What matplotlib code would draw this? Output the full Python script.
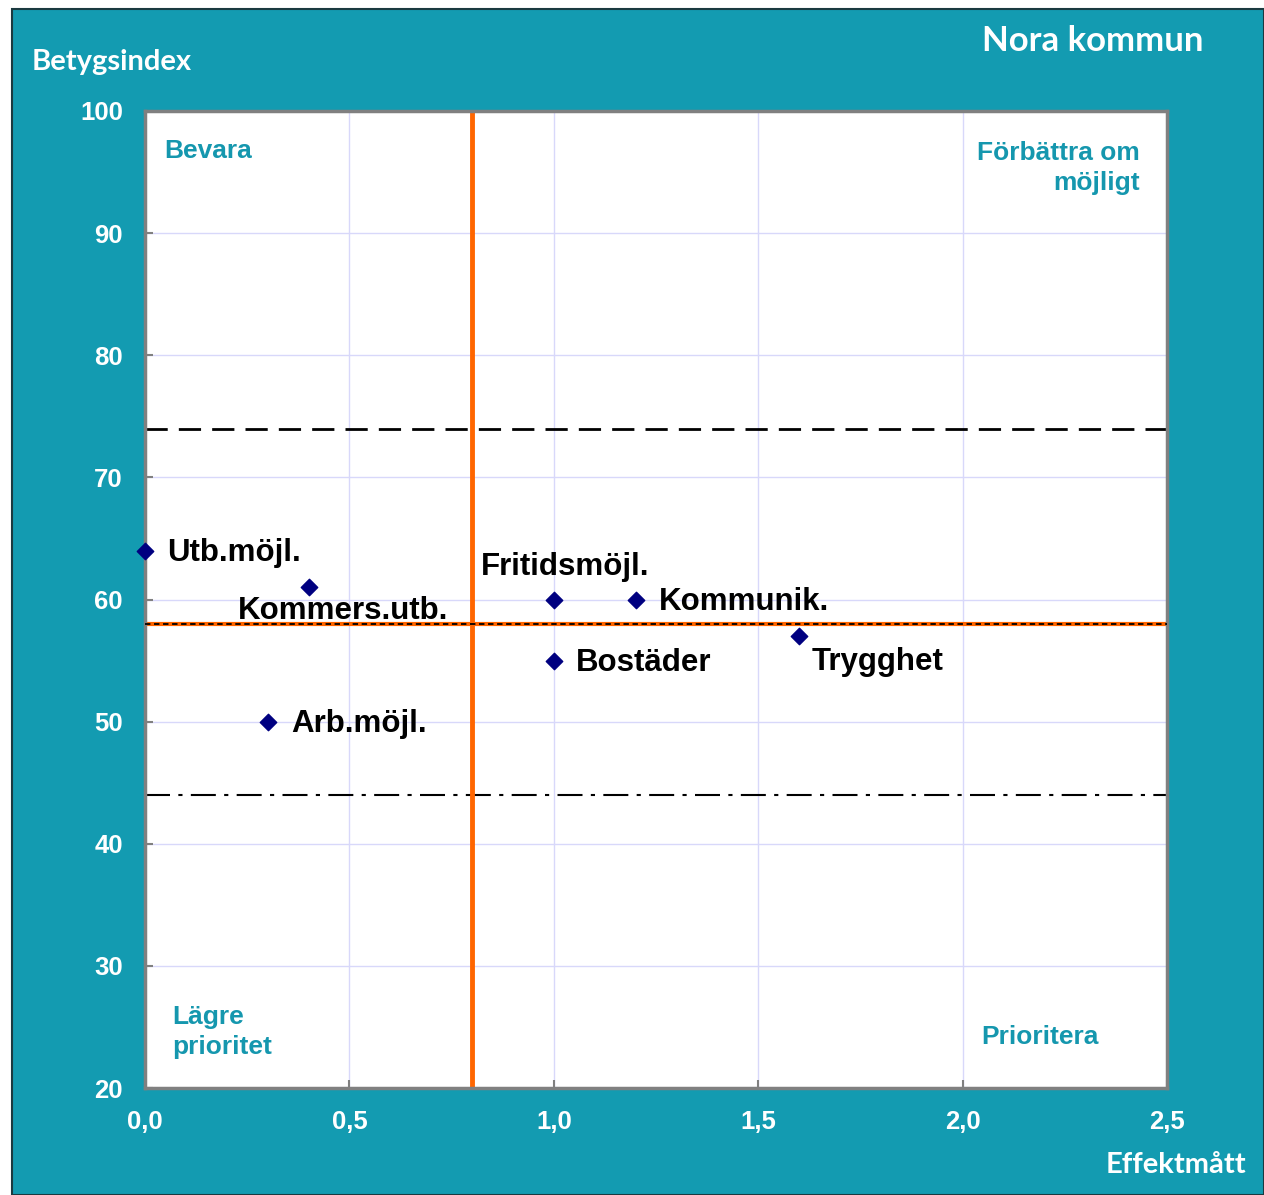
import matplotlib.pyplot as plt
from matplotlib.patches import Rectangle

# data
labels = ['Utb.möjl.', 'Kommers.utb.', 'Arb.möjl.', 'Fritidsmöjl.', 'Bostäder', 'Kommunik.', 'Trygghet']
effekt = [0.0, 0.4, 0.3, 1.0, 1.0, 1.2, 1.6]
betyg = [64, 61, 50, 60, 55, 60, 57]
x_ticks = [0.0, 0.5, 1.0, 1.5, 2.0, 2.5]
x_ticklabels = ['0,0', '0,5', '1,0', '1,5', '2,0', '2,5']
y_ticks = [20, 30, 40, 50, 60, 70, 80, 90, 100]
mean_betyg = 58
upper_ref = 74
lower_ref = 44
mean_effekt = 0.8

teal = '#139BB1'
qcol = '#1597AE'

fig = plt.figure(figsize=(12.64, 11.95), dpi=100)
fig.patch.set_facecolor('white')
bg = Rectangle((12 / 1264, 0), 1 - 12 / 1264, 1 - 9 / 1195,
               transform=fig.transFigure, facecolor=teal,
               edgecolor='#1a3a40', linewidth=1.5, zorder=-10)
fig.add_artist(bg)

ax = fig.add_axes([145 / 1264, 1 - 1088 / 1195, 1022 / 1264, 977 / 1195])
ax.set_zorder(5)
ax.set_facecolor('white')
ax.set_xlim(0, 2.5)
ax.set_ylim(20, 100)
ax.set_xticks(x_ticks)
ax.set_xticklabels(x_ticklabels)
ax.set_yticks(y_ticks)
ax.grid(True, color='#D8D8FA', linewidth=1)
ax.set_axisbelow(True)
for s in ax.spines.values():
    s.set_color('#808080')
    s.set_linewidth(2.5)
ax.tick_params(direction='in', length=6, color='#808080', width=1.5,
               labelcolor='white', labelsize=18.5, pad=16)
for t in ax.get_xticklabels() + ax.get_yticklabels():
    t.set_fontweight('bold')
    t.set_family('Liberation Sans')
ax.tick_params(axis='y', pad=16)

# reference lines
ax.axhline(upper_ref, color='black', lw=2, dashes=(8, 4), zorder=2)
ax.axhline(lower_ref, color='black', lw=1.5, dashes=(12, 4, 2, 4), zorder=2)
ax.axhline(mean_betyg, color='#FF6600', lw=3, zorder=2)
ax.axhline(mean_betyg, color='black', lw=1.3, dashes=(3, 2), zorder=3)
ax.axvline(mean_effekt, color='#FF6600', lw=3.5, zorder=2)

ax.scatter(effekt, betyg, marker='D', s=70, color='#000080', zorder=5, clip_on=False)

# label offsets (points) and alignment
offsets = [(16, -1.5, 'left'), (25, -17, 'center'), (17, -1.5, 'left'), (8, 23.5, 'center'),
           (16, -1.5, 'left'), (17, -1.5, 'left'), (9, -18.5, 'left')]
for lab, xv, yv, (dx, dy, ha) in zip(labels, effekt, betyg, offsets):
    ax.annotate(lab, (xv, yv), xytext=(dx, dy), textcoords='offset points',
                ha=ha, va='center', fontsize=22.5, fontweight='bold',
                family='Liberation Sans', color='black', zorder=6)

# quadrant texts
qkw = dict(transform=ax.transAxes, color=qcol, fontsize=19, fontweight='bold',
           family='Liberation Sans', linespacing=1.3)
ax.text(19 / 1022, 1 - 40 / 977, 'Bevara', ha='left', va='center', **qkw)
ax.text(995 / 1022, 1 - 30 / 977, 'Förbättra om\nmöjligt', ha='right', va='top', **qkw)
ax.text(27 / 1022, 1 - 894 / 977, 'Lägre\nprioritet', ha='left', va='top', **qkw)
ax.text(836 / 1022, 1 - 926 / 977, 'Prioritera', ha='left', va='center', **qkw)

# axis titles
tkw = dict(color='white', fontweight='bold', family='Lato')
fig.text(32 / 1264, 1 - 62 / 1195, 'Betygsindex', ha='left', va='center', fontsize=21, **tkw)
fig.text(1204 / 1264, 1 - 41 / 1195, 'Nora kommun', ha='right', va='center', fontsize=25, **tkw)
fig.text(1246 / 1264, 1 - 1165 / 1195, 'Effektmått', ha='right', va='center', fontsize=21, **tkw)

fig.savefig('out.png', dpi=100)
